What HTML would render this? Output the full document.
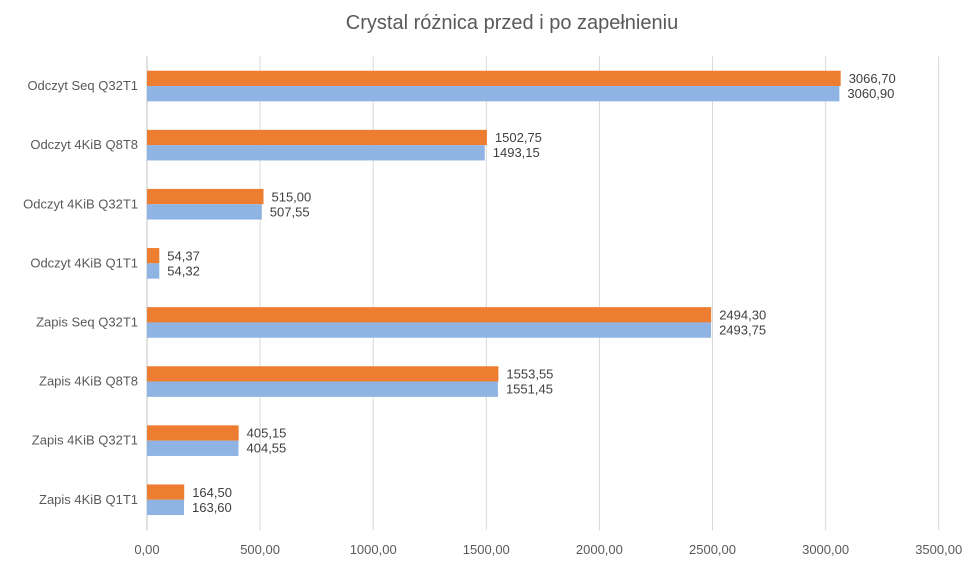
<!DOCTYPE html>
<html><head><meta charset="utf-8"><style>
body{margin:0;background:#fff;}
svg{font-family:"Liberation Sans",sans-serif;}
</style></head><body>
<svg id="chart" width="979" height="566">
<text x="512" y="29" text-anchor="middle" font-size="20" fill="#595959">Crystal różnica przed i po zapełnieniu</text>
<g id="grid"></g><g id="bars"></g><g id="labels"></g><g id="ticks"></g><g id="cats"></g>
</svg>
<script>
const categories=["Odczyt Seq Q32T1","Odczyt 4KiB Q8T8","Odczyt 4KiB Q32T1","Odczyt 4KiB Q1T1","Zapis Seq Q32T1","Zapis 4KiB Q8T8","Zapis 4KiB Q32T1","Zapis 4KiB Q1T1"];
const afterValues=[3066.70,1502.75,515.00,54.37,2494.30,1553.55,405.15,164.50];
const beforeValues=[3060.90,1493.15,507.55,54.32,2493.75,1551.45,404.55,163.60];
const tickValues=[0,500,1000,1500,2000,2500,3000,3500];
const x0=147,pxPer=113.1/500,plotTop=56.5,band=59.1,barH=15.3;
const X=v=>x0+v*pxPer;
const fmt=v=>v.toFixed(2).replace('.',',');
const NS="http://www.w3.org/2000/svg";
function mk(tag,attrs,parent,text){const e=document.createElementNS(NS,tag);for(const k in attrs)e.setAttribute(k,attrs[k]);if(text!==undefined)e.textContent=text;document.getElementById(parent).appendChild(e);return e;}
const plotBottom=plotTop+band*categories.length;
tickValues.forEach(t=>{
 const g=mk('line',{x1:X(t),x2:X(t),y1:plotTop,y2:plotBottom+1,stroke:t===0?'#bfbfbf':'#d9d9d9','stroke-width':1},'grid');
 
 
 const l=mk('text',{x:X(t),y:554,'text-anchor':'middle','font-size':13,fill:'#595959'},'ticks',fmt(t));
 
 
});
categories.forEach((c,i)=>{
 const cy=plotTop+band*i+band/2;
 const cl=mk('text',{x:138,y:cy+4,'text-anchor':'end','font-size':13,fill:'#595959'},'cats',c);
 
 
 const a=mk('rect',{x:X(0),y:cy-barH,width:X(afterValues[i])-X(0),height:barH,fill:'#ED7D31'},'bars');
 
 
 const b=mk('rect',{x:X(0),y:cy,width:X(beforeValues[i])-X(0),height:barH,fill:'#8FB4E3'},'bars');
 
 
 const la=mk('text',{x:X(afterValues[i])+8,y:cy-3,'font-size':13,fill:'#404040'},'labels',fmt(afterValues[i]));
 
 
 const lb=mk('text',{x:X(beforeValues[i])+8,y:cy+12,'font-size':13,fill:'#404040'},'labels',fmt(beforeValues[i]));
 
 
});
</script>
</body></html>
